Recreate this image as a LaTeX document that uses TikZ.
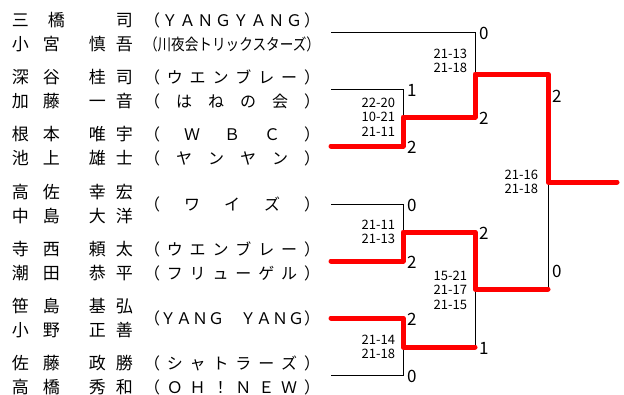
\documentclass[tikz,border=0pt]{standalone}
\usepackage{fontspec}
\usepackage{graphicx}
\setmainfont{Noto Sans CJK JP}
\usetikzlibrary{positioning}
\makeatletter
\newcommand\clubspread[1]{\hbox to 176pt{\def\clubsep{}\@tfor\clubch:=#1\do{\clubsep\clubch\def\clubsep{\hfil}}}}
\makeatother
\newcommand\pname[4]{\hbox to 48pt{#1\hfil#2}\hskip 29pt\hbox to 44pt{#3\hfil#4}}

\begin{document}
\begin{tikzpicture}[x=1pt, y=-1pt,
  every node/.style = {inner sep=0pt, outer sep=0pt},
  player/.style = {anchor=west, font=\fontsize{17}{17}\selectfont},
  club/.style = {anchor=west, font=\fontsize{16}{16}\selectfont},
  score/.style = {anchor=east, align=right, font=\fontsize{13}{14.5}\selectfont},
  wins/.style = {anchor=west, font=\fontsize{17}{17}\selectfont},
  lose/.style = {draw=black, line width=1pt},
  win/.style = {draw=red, line width=5pt, line cap=round, line join=round}]
  \useasboundingbox (0,0) rectangle (624,394);

  \node[player] (p1a) at (12,20)  {\pname{三}{橋\kern-5pt}{}{司}};
  \node[player] (p1b) at (12,44)  {\pname{小}{宮}{慎}{吾}};
  \node[player] (p2a) at (12,77)  {\pname{深}{谷}{桂}{司}};
  \node[player] (p2b) at (12,101) {\pname{加}{藤}{一}{音}};
  \node[player] (p3a) at (12,134) {\pname{根}{本}{唯}{宇}};
  \node[player] (p3b) at (12,158) {\pname{池}{上}{雄}{士}};
  \node[player] (p4a) at (12,192) {\pname{高}{佐}{幸}{宏}};
  \node[player] (p4b) at (12,216) {\pname{中}{島}{大}{洋}};
  \node[player] (p5a) at (12,249) {\pname{寺}{西}{頼}{太}};
  \node[player] (p5b) at (12,273) {\pname{潮}{田}{恭}{平}};
  \node[player] (p6a) at (12,306) {\pname{笹}{島}{基}{弘}};
  \node[player] (p6b) at (12,330) {\pname{小}{野}{正}{善}};
  \node[player] (p7a) at (12,363) {\pname{佐}{藤}{政}{勝}};
  \node[player] (p7b) at (12,387) {\pname{高}{橋}{秀}{和}};

  \node[club] (c1a) at (144,20)  {\clubspread{（ＹＡＮＧＹＡＮＧ）}};
  \node[club] (c1b) at (144,44)  {\resizebox{176pt}{\height}{（川夜会トリックスターズ）}};
  \node[club] (c2a) at (144,77)  {\clubspread{（ウエンブレー）}};
  \node[club] (c2b) at (144,101) {\clubspread{（はねの会）}};
  \node[club] (c3a) at (144,134) {\clubspread{（ＷＢＣ）}};
  \node[club] (c3b) at (144,158) {\clubspread{（ヤンヤン）}};
  \node[club] (c4)  at (144,204) {\clubspread{（ワイズ）}};
  \node[club] (c5a) at (144,249) {\clubspread{（ウエンブレー）}};
  \node[club] (c5b) at (144,273) {\clubspread{（フリューゲル）}};
  \node[club] (c6)  at (144,318) {\clubspread{（ＹＡＮＧ　ＹＡＮＧ）}};
  \node[club] (c7a) at (144,363) {\clubspread{（シャトラーズ）}};
  \node[club] (c7b) at (144,387) {\clubspread{（ＯＨ！ＮＥＷ）}};

  \coordinate (t1) at (331,32);
  \coordinate (t2) at (331,89);
  \coordinate (t3) at (331,146);
  \coordinate (t4) at (331,204);
  \coordinate (t5) at (331,261);
  \coordinate (t6) at (331,318);
  \coordinate (t7) at (331,375);
  \coordinate (r1a) at (403,117);
  \coordinate (r1b) at (403,232);
  \coordinate (r1c) at (403,347);
  \coordinate (r2a) at (475,74);
  \coordinate (r2b) at (475,289);
  \coordinate (fin) at (548,182);
  \coordinate (champ) at (617,182);

  \draw[lose] (t1) -| (r2a);
  \draw[lose] (t2) -| (r1a);
  \draw[lose] (t4) -| (r1b);
  \draw[lose] (t7) -| (r1c);
  \draw[lose] (r2b) -- (r2b |- r1c);
  \draw[lose] (fin) -- (fin |- r2b);

  \draw[win] (t3) -| (r1a) -| (r2a) -| (fin) -- (champ);
  \draw[win] (t5) -| (r1b) -| (r2b) -- (fin |- r2b);
  \draw[win] (t6) -| (r1c) -- (r1c -| r2b);

  \node[wins] (w1)  at (479,33)  {0};
  \node[wins] (w2)  at (407,90)  {1};
  \node[wins] (w3)  at (407,147) {2};
  \node[wins] (w23) at (479,118) {2};
  \node[wins] (w4)  at (407,205) {0};
  \node[wins] (w5)  at (407,262) {2};
  \node[wins] (w45) at (479,233) {2};
  \node[wins] (w6)  at (407,319) {2};
  \node[wins] (w7)  at (407,376) {0};
  \node[wins] (w67) at (479,348) {1};
  \node[wins] (wtop) at (552,96)  {2};
  \node[wins] (wbot) at (552,271) {0};

  \node[score] (s23)  at (395,117) {22-20\\10-21\\21-11};
  \node[score] (s123) at (467,61)  {21-13\\21-18};
  \node[score] (s45)  at (395,232) {21-11\\21-13};
  \node[score] (s67)  at (395,347) {21-14\\21-18};
  \node[score] (s4567) at (467,290) {15-21\\21-17\\21-15};
  \node[score] (sfin) at (538,182) {21-16\\21-18};
\end{tikzpicture}
\end{document}
